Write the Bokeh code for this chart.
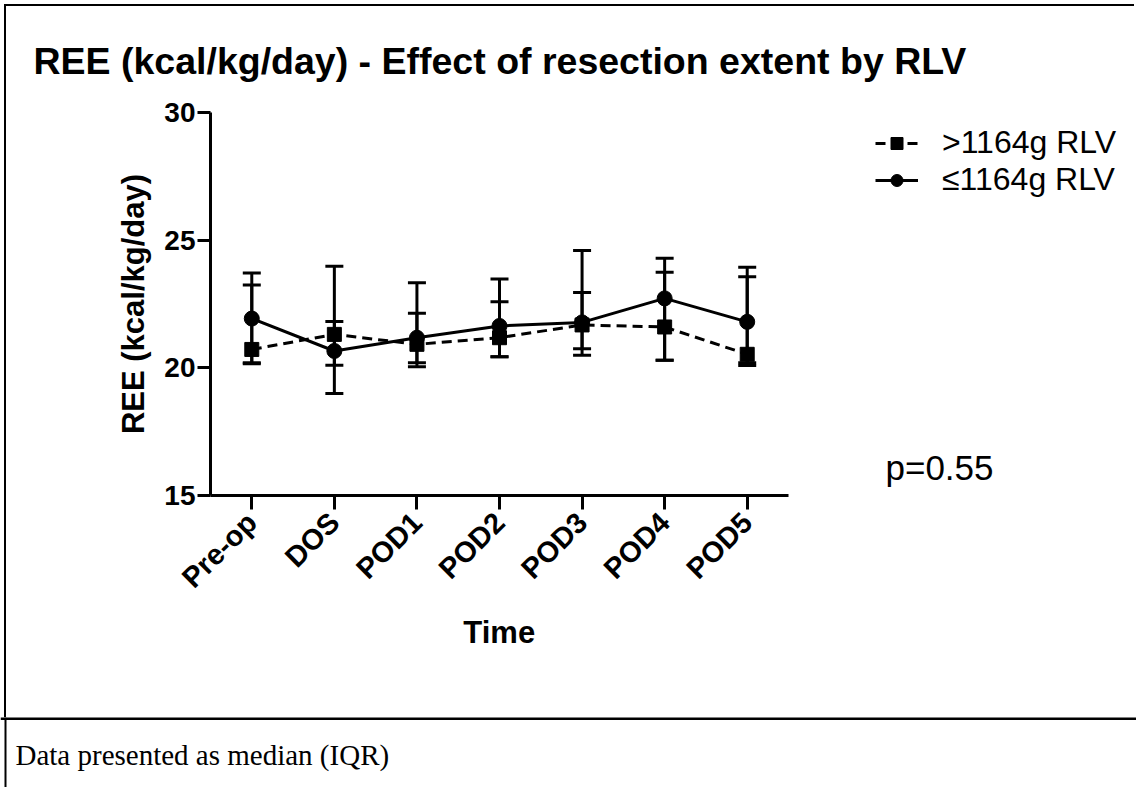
import math
from bokeh.plotting import figure
from bokeh.layouts import column
from bokeh.models import (ColumnDataSource, Whisker, TeeHead, Range1d, FixedTicker,
                          Label, Legend, LegendItem, Span, Title)
from bokeh.embed import file_html
from bokeh.resources import INLINE

# ---- data ----
categories = ["Pre-op", "DOS", "POD1", "POD2", "POD3", "POD4", "POD5"]
high_median = [20.72, 21.31, 20.92, 21.18, 21.68, 21.60, 20.53]
high_q1 = [20.16, 20.10, 20.04, 20.43, 20.49, 20.30, 20.09]
high_q3 = [23.24, 23.98, 22.14, 22.59, 22.95, 23.74, 23.57]
low_median = [21.93, 20.66, 21.18, 21.64, 21.78, 22.72, 21.80]
low_q1 = [20.20, 18.99, 20.20, 20.43, 20.75, 20.30, 20.20]
low_q3 = [23.71, 21.81, 23.33, 23.48, 24.60, 24.29, 23.94]
y_ticks = [15, 20, 25, 30]
series_labels = [">1164g RLV", "\u22641164g RLV"]
title_text = "REE (kcal/kg/day) - Effect of resection extent by RLV"
x_title = "Time"
y_title = "REE (kcal/kg/day)"
p_text = "p=0.55"
note_text = "Data presented as median (IQR)"

xpos = list(range(len(categories)))
src = ColumnDataSource(dict(x=xpos, hm=high_median, hq1=high_q1, hq3=high_q3,
                            lm=low_median, lq1=low_q1, lq3=low_q3))

W, H = 1136, 789
OX, OY = 6, 6            # page offset of the main figure canvas (margin + border)
SEP = 719                # page y of the separator line
FL, FT, FB, FR = 210, 112, 495, 788   # axis box, page coordinates
PW, PH = W - OX, SEP - OY
FONT = "Liberation Sans"

step = (FR - FL) / len(categories)
x_start = -0.5
x_end = x_start + (W - FL) / step

p = figure(width=PW, height=PH, x_range=Range1d(x_start, x_end), y_range=Range1d(15, 30),
           output_backend="svg", toolbar_location=None,
           min_border_left=FL - OX, min_border_right=0, min_border_top=FT - OY,
           min_border_bottom=PH - (FB - OY),
           margin=(4, 0, 0, 4),
           styles={"border-left": "2px solid black", "border-top": "2px solid black"})
p.frame_align = False
p.outline_line_color = None
p.grid.visible = False

for ax in (p.xaxis[0], p.yaxis[0]):
    ax.axis_line_width = 3
    ax.axis_line_color = "black"
    ax.major_tick_line_width = 3
    ax.major_tick_line_color = "black"
    ax.major_tick_in = 0
    ax.minor_tick_out = 0
    ax.minor_tick_in = 0
    ax.major_label_text_font = FONT
    ax.major_label_text_font_style = "bold"
    ax.major_label_text_color = "black"
    ax.axis_label_text_font = FONT
    ax.axis_label_text_font_style = "bold"
    ax.axis_label_text_color = "black"

p.yaxis.ticker = FixedTicker(ticks=y_ticks)
p.yaxis.bounds = (15, 30)
p.yaxis.major_tick_out = 13
p.yaxis.major_label_text_font_size = "28px"
p.yaxis.major_label_standoff = 2
p.yaxis.axis_label = y_title
p.yaxis.axis_label_text_font_size = "31px"
p.yaxis.axis_label_standoff = 10

p.xaxis.ticker = FixedTicker(ticks=xpos)
p.xaxis.major_label_overrides = {i: c for i, c in zip(xpos, categories)}
p.xaxis.bounds = (x_start, x_start + len(categories))
p.xaxis.major_tick_out = 14
p.xaxis.major_label_orientation = math.pi / 4
p.xaxis.major_label_text_font_size = "29px"
p.xaxis.major_label_standoff = 8

p.title.text = title_text
p.title.align = "left"
p.title.offset = 33 - FL
p.title.standoff = 62
p.title.text_font = FONT
p.title.text_font_style = "bold"
p.title.text_font_size = "37.5px"
p.title.text_color = "black"

# x axis title centred under the axis line (the frame itself reaches the right edge)
time_size = 31
time_width = 2.334 * time_size
p.add_layout(Title(text=x_title, align="left", offset=(FL + FR) / 2 - time_width / 2 - FL,
                   standoff=8, text_font=FONT, text_font_style="bold",
                   text_font_size=f"{time_size}px", text_color="black"), "below")

r_hl = p.line(x="x", y="hm", source=src, line_color="black", line_width=3, line_dash="10 6")
r_hs = p.scatter(x="x", y="hm", source=src, marker="square", size=14, fill_color="black", line_color="black")
r_ll = p.line(x="x", y="lm", source=src, line_color="black", line_width=3)
r_ls = p.scatter(x="x", y="lm", source=src, marker="circle", size=15, fill_color="black", line_color="black")

for lo, hi in (("hq1", "hq3"), ("lq1", "lq3")):
    w = Whisker(base="x", lower=lo, upper=hi, source=src, dimension="height",
                line_color="black", line_width=3,
                upper_head=TeeHead(size=18, line_width=3, line_color="black"),
                lower_head=TeeHead(size=18, line_width=3, line_color="black"))
    p.add_layout(w)

legend = Legend(items=[LegendItem(label=series_labels[0], renderers=[r_hl, r_hs]),
                       LegendItem(label=series_labels[1], renderers=[r_ll, r_ls])],
                location=(875 - FL, FB - 198), orientation="vertical",
                label_text_font=FONT, label_text_font_size="32px", label_text_color="black",
                glyph_width=43, glyph_height=30, label_height=30, label_standoff=24,
                spacing=0, padding=0, margin=0,
                border_line_color=None, background_fill_alpha=0)
p.add_layout(legend, "center")

p.add_layout(Label(x=885 - FL, y=FB - 467, x_units="screen", y_units="screen",
                   text=p_text, text_font=FONT, text_font_size="35px",
                   text_color="black", text_baseline="alphabetic"))

# footnote strip below the separator line
FH = H - SEP
q = figure(width=W, height=FH, x_range=Range1d(0, W), y_range=Range1d(FH, 0),
           output_backend="svg", toolbar_location=None, x_axis_location=None,
           y_axis_location=None, min_border=0)
q.frame_align = False
q.outline_line_color = None
q.grid.visible = False
q.add_layout(Span(location=1, dimension="width", line_color="black", line_width=3))
q.add_layout(Span(location=5, dimension="height", line_color="black", line_width=2))
q.add_layout(Label(x=15, y=756 - SEP, text=note_text, text_font="Liberation Serif",
                   text_font_size="29px", text_color="black", text_baseline="alphabetic"))

root = column(p, q, spacing=0)
open("out.html", "w").write(file_html(root, INLINE))
